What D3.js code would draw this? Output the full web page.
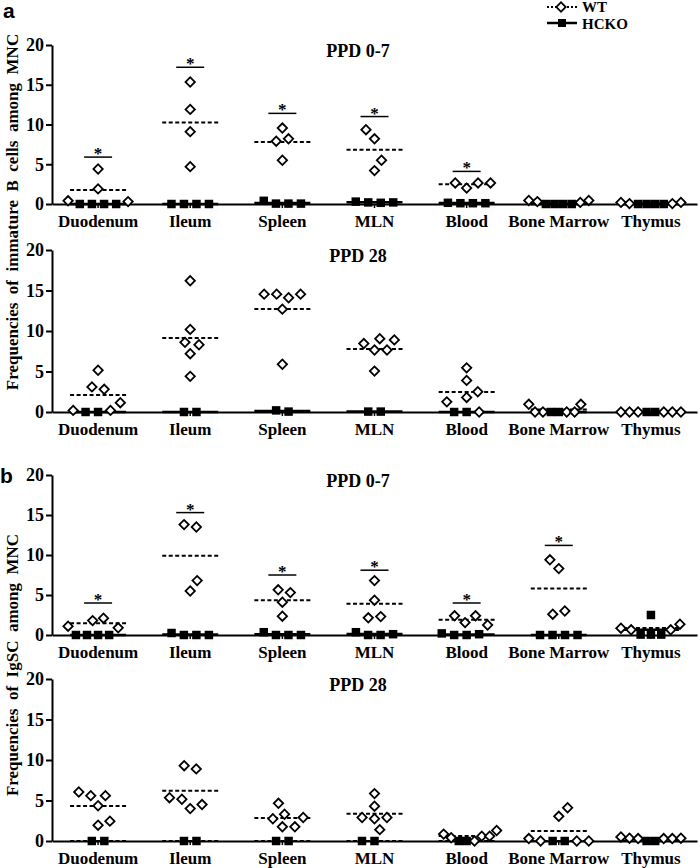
<!DOCTYPE html>
<html><head><meta charset="utf-8">
<script src="https://cdn.jsdelivr.net/npm/d3@7"></script>
<style>body{margin:0;background:#fff}svg{display:block}</style>
</head><body>
<svg id="c" width="700" height="868"></svg>
<script>
const categories = ["Duodenum","Ileum","Spleen","MLN","Blood","Bone Marrow","Thymus"];
const yTicks = [0,5,10,15,20];
const panelTitles = ["PPD 0-7","PPD 28","PPD 0-7","PPD 28"];
const groupNames = ["WT","HCKO"];
const yTitles = ["Frequencies  of  immature  B  cells  among  MNC","Frequencies  of  IgSC  among  MNC"];

// Panel a, PPD 0-7
const aEarlyWT = [[0.3,4.4,1.9,0.4],[15.35,11.9,9.1,4.7],[9.55,7.9,8.2,5.5],[9.35,8.2,5.5,4.2],[2.65,2.65,2.0,2.65],[0.45,0.2,0.3,0.45],[0.05,0.05,0.2,0.2]];
const aEarlyKO = [[0,0,0,0],[0,0,0,0],[0.05,0.05,0.05,0.4],[0.2,0.15,0.2,0.3],[0.1,0.1,0.1,0.15],[0,0,0,0],[0,0,0,0]];
const aEarlySig = [5.9,17.2,11.4,11.0,4.1,null,null];
// Panel a, PPD 28
const aLateWT = [[1.15,0.2,3.1,5.15,2.8,0.2],[16.2,10.2,8.6,8.3,7.2,4.4],[14.55,14.55,14.1,14.55,12.7,5.9],[9.05,8.45,7.65,7.65,8.9,5.05],[5.45,3.9,2.5,1.8,1.25,0],[0.95,0,0,0,0,0.95],[0,0,0,0,0,0]];
const aLateKO = [[0,0],[0,0],[0.05,0.2],[0.05,0.05],[0,0],[0,0],[0,0]];
const aLateSig = [null,null,null,null,null,null,null];
// Panel b, PPD 0-7
const bEarlyWT = [[0.9,2.1,1.8,1.1],[13.5,13.8,6.8,5.5],[5.65,5.3,4.1,2.35],[6.8,4.35,2.3,2.15],[1.25,2.4,2.4,1.55],[9.4,8.3,3.0,2.6],[1.35,0.65,0.65,0.85]];
const bEarlyKO = [[0,0,0,0],[0,0,0,0.25],[0,0,0,0.35],[0,0,0.1,0.35],[0,0,0.1,0.2],[0,0,0,0],[2.5,0.05,0.05,0.05]];
const bEarlySig = [4.0,15.3,7.5,8.1,4.0,11.2,null];
// Panel b, PPD 28
const bLateWT = [[5.6,6.05,5.6,4.35,2.45,1.95],[8.9,9.3,5.35,4.5,4.0,5.15],[4.65,2.9,1.75,1.75,2.75,3.3],[5.85,4.3,2.9,2.75,2.9,1.4],[0.85,0.6,0.0,0.4,0.6,1.3],[4.1,3.05,0,0,0,0.3],[0.35,0.3,0.3,0.3,0.35,0.5]];
const bLateKO = [[0,0],[0,0],[0,0],[0,0],[0,0],[0,0],[0,0]];
const bLateSig = [null,null,null,null,null,null,null];

const svg = d3.select("#c");
const SERIF = "'Liberation Serif','Times New Roman',serif";
const SANS = "'Liberation Sans',Arial,sans-serif";

const panels = [
  {wt:aEarlyWT, ko:aEarlyKO, sig:aEarlySig, title:panelTitles[0], top:45, bottom:204, koDash:false},
  {wt:aLateWT,  ko:aLateKO,  sig:aLateSig,  title:panelTitles[1], top:250, bottom:412, koDash:false},
  {wt:bEarlyWT, ko:bEarlyKO, sig:bEarlySig, title:panelTitles[2], top:475, bottom:635, koDash:false},
  {wt:bLateWT,  ko:bLateKO,  sig:bLateSig,  title:panelTitles[3], top:679, bottom:841, koDash:true}
];

const x = d3.scaleBand().domain(categories).range([52,697]).padding(0);
const HALF = 28, D = 12.5;

function collides(pts, set) {
  for (const p of set) for (const q of pts) {
    if (set.includes(q)) continue;
    if (Math.hypot(p.dx-q.dx, p.py-q.py) < D-0.5) return true;
  }
  return false;
}

function swarm(wt, ko, y) {
  const pts = [...ko.map(v=>({v,g:"ko"})), ...wt.map(v=>({v,g:"wt"}))];
  pts.forEach(p=>p.py=y(p.v));
  const order = pts.slice().sort((a,b)=> (a.v-b.v) || ((a.g==="ko"?0:1)-(b.g==="ko"?0:1)));
  const placed=[]; let flip=1;
  for (const p of order) {
    const ivs=[];
    for (const q of placed) {
      const dy=Math.abs(q.py-p.py);
      if (dy<D) { const w=Math.sqrt(D*D-dy*dy); ivs.push([q.dx-w,q.dx+w]); }
    }
    const cands=[0]; ivs.forEach(iv=>cands.push(iv[0],iv[1]));
    const ok=cands.filter(c=>ivs.every(iv=>c<=iv[0]+1e-6||c>=iv[1]-1e-6));
    ok.sort((a,b)=>(Math.abs(a)-Math.abs(b))||((a-b)*flip));
    p.dx=ok[0]; if (Math.abs(p.dx)>1e-6) flip=-flip;
    placed.push(p);
  }
  const parent = pts.map((_,i)=>i);
  const find = i => parent[i]===i ? i : (parent[i]=find(parent[i]));
  for (let i=0;i<pts.length;i++) for (let j=i+1;j<pts.length;j++) {
    if (Math.abs(pts[i].py-pts[j].py)<4 && Math.abs(pts[i].dx-pts[j].dx)<D*1.2) parent[find(i)]=find(j);
  }
  const groups = d3.groups(pts.map((p,i)=>[p,find(i)]), d=>d[1]).map(g=>g[1].map(d=>d[0]));
  groups.forEach(gp=>{
    if (gp.length<2) return;
    const s = -(d3.min(gp,p=>p.dx)+d3.max(gp,p=>p.dx))/2;
    gp.forEach(p=>p.dx+=s);
    if (collides(pts, gp)) gp.forEach(p=>p.dx-=s);
  });
  const m=d3.max(pts,p=>Math.abs(p.dx));
  if (m>30) pts.forEach(p=>p.dx*=30/m);
  return pts;
}

panels.forEach(P=>{
  const y = d3.scaleLinear().domain([0,20]).range([P.bottom,P.top]);
  const g = svg.append("g");
  const ya = g.append("g").attr("transform","translate(52,0)")
    .call(d3.axisLeft(y).tickValues(yTicks).tickSize(6).tickSizeOuter(0).tickPadding(2));
  ya.select(".domain").attr("stroke-width",2);
  ya.selectAll(".tick line").attr("stroke-width",2);
  ya.selectAll("text").attr("font-family",SERIF).attr("font-weight","bold").attr("font-size",18).attr("fill","#000");
  const xa = g.append("g").attr("transform",`translate(0,${P.bottom})`)
    .call(d3.axisBottom(x).tickSize(4).tickSizeOuter(0).tickPadding(7));
  xa.select(".domain").attr("stroke-width",2);
  xa.selectAll(".tick line").attr("stroke-width",1.5);
  xa.selectAll("text").attr("font-family",SERIF).attr("font-weight","bold").attr("font-size",17).attr("fill","#000");
  g.append("text").attr("x",358).attr("y",P.top+12).attr("text-anchor","middle")
    .attr("font-family",SERIF).attr("font-weight","bold").attr("font-size",18).text(P.title);

  categories.forEach((c,i)=>{
    const cx = x(c)+x.bandwidth()/2;
    const wt = P.wt[i], ko = P.ko[i];
    g.append("line").attr("x1",cx-HALF).attr("x2",cx+HALF)
      .attr("y1",y(d3.mean(ko))).attr("y2",y(d3.mean(ko)))
      .attr("stroke","#000").attr("stroke-width",P.koDash?2:2.5)
      .attr("stroke-dasharray",P.koDash?"4,2.5":null);
    g.append("line").attr("x1",cx-HALF).attr("x2",cx+HALF)
      .attr("y1",y(d3.mean(wt))).attr("y2",y(d3.mean(wt)))
      .attr("stroke","#000").attr("stroke-width",2).attr("stroke-dasharray","4,2.5");
    if (P.sig[i]!=null) {
      g.append("line").attr("x1",cx-14).attr("x2",cx+14)
        .attr("y1",y(P.sig[i])).attr("y2",y(P.sig[i]))
        .attr("stroke","#000").attr("stroke-width",1.5);
      g.append("text").attr("x",cx).attr("y",y(P.sig[i])+2).attr("text-anchor","middle")
        .attr("font-family",SERIF).attr("font-weight","bold").attr("font-size",17).text("*");
    }
    const pts = swarm(wt, ko, y);
    g.selectAll(null).data(pts.filter(p=>p.g==="ko")).join("path")
      .attr("d",d3.symbol(d3.symbolSquare,72)())
      .attr("transform",p=>`translate(${cx+p.dx},${p.py})`)
      .attr("fill","#000");
    g.selectAll(null).data(pts.filter(p=>p.g==="wt")).join("path")
      .attr("d",d3.symbol(d3.symbolSquare,44)())
      .attr("transform",p=>`translate(${cx+p.dx},${p.py}) rotate(45)`)
      .attr("fill","#fff").attr("stroke","#000").attr("stroke-width",1.8);
  });
});

[[212,yTitles[0]],[665,yTitles[1]]].forEach(([cy,t])=>{
  svg.append("text").attr("transform",`translate(18,${cy}) rotate(-90)`).attr("text-anchor","middle")
    .attr("font-family",SERIF).attr("font-weight","bold").attr("font-size",17)
    .style("white-space","pre").text(t);
});

svg.append("text").attr("x",3).attr("y",18).attr("font-family",SANS).attr("font-weight","bold").attr("font-size",21).text("a");
svg.append("text").attr("x",0).attr("y",483).attr("font-family",SANS).attr("font-weight","bold").attr("font-size",21).text("b");

const lg = svg.append("g");
lg.append("line").attr("x1",547).attr("x2",577).attr("y1",7).attr("y2",7).attr("stroke","#000").attr("stroke-width",2).attr("stroke-dasharray","2,2");
lg.append("path").attr("d",d3.symbol(d3.symbolSquare,44)()).attr("transform","translate(561,7) rotate(45)").attr("fill","#fff").attr("stroke","#000").attr("stroke-width",1.8);
lg.append("text").attr("x",582).attr("y",12).attr("font-family",SERIF).attr("font-weight","bold").attr("font-size",15).text(groupNames[0]);
lg.append("line").attr("x1",547).attr("x2",577).attr("y1",23).attr("y2",23).attr("stroke","#000").attr("stroke-width",2.5);
lg.append("path").attr("d",d3.symbol(d3.symbolSquare,64)()).attr("transform","translate(562,23)").attr("fill","#000");
lg.append("text").attr("x",582).attr("y",29).attr("font-family",SERIF).attr("font-weight","bold").attr("font-size",15).text(groupNames[1]);
</script>
</body></html>
